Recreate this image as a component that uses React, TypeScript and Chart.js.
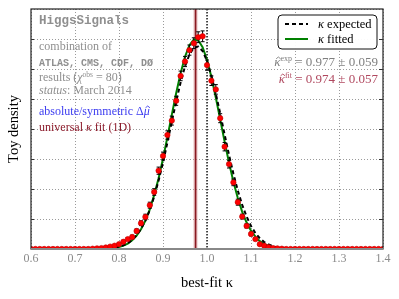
import React, { useEffect, useRef } from 'react';
import { Chart, registerables } from 'chart.js';

Chart.register(...registerables);

// ---- data ----
const binCenters = [
  0.60, 0.61, 0.62, 0.63, 0.64, 0.65, 0.66, 0.67, 0.68, 0.69,
  0.70, 0.71, 0.72, 0.73, 0.74, 0.75, 0.76, 0.77, 0.78, 0.79,
  0.80, 0.81, 0.82, 0.83, 0.84, 0.85, 0.86, 0.87, 0.88, 0.89,
  0.90, 0.91, 0.92, 0.93, 0.94, 0.95, 0.96, 0.97, 0.98, 0.99,
  1.00, 1.01, 1.02, 1.03, 1.04, 1.05, 1.06, 1.07, 1.08, 1.09,
  1.10, 1.11, 1.12, 1.13, 1.14, 1.15, 1.16, 1.17, 1.18, 1.19,
  1.20, 1.21, 1.22, 1.23, 1.24, 1.25, 1.26, 1.27, 1.28, 1.29,
  1.30, 1.31, 1.32, 1.33, 1.34, 1.35, 1.36, 1.37, 1.38, 1.39, 1.40,
];
const toyDensity = [
  0, 0, 0, 0, 0, 0, 0, 0, 0, 0,
  0, 0, 0, 0, 0.01, 0.02, 0.03, 0.05, 0.08, 0.11,
  0.16, 0.24, 0.33, 0.40, 0.60, 0.86, 1.07, 1.46, 1.90, 2.61,
  3.10, 3.80, 4.28, 4.94, 5.77, 6.25, 6.63, 6.86, 7.06, 7.09,
  6.13, 5.61, 5.32, 4.36, 3.41, 2.83, 2.22, 1.56, 1.08, 0.77,
  0.50, 0.33, 0.16, 0.11, 0.06, 0.03, 0.02, 0.01, 0, 0,
  0, 0, 0, 0, 0, 0, 0, 0, 0, 0,
  0, 0, 0, 0, 0, 0, 0, 0, 0, 0, 0,
];
const toyErrors = [
  0, 0, 0, 0, 0, 0, 0, 0, 0, 0,
  0, 0, 0, 0, 0.01, 0.01, 0.02, 0.02, 0.03, 0.03,
  0.04, 0.05, 0.05, 0.06, 0.07, 0.08, 0.09, 0.10, 0.11, 0.12,
  0.13, 0.14, 0.15, 0.15, 0.16, 0.17, 0.17, 0.18, 0.18, 0.18,
  0.17, 0.16, 0.16, 0.15, 0.14, 0.13, 0.11, 0.10, 0.08, 0.07,
  0.06, 0.05, 0.04, 0.03, 0.02, 0.02, 0.01, 0.01, 0, 0,
  0, 0, 0, 0, 0, 0, 0, 0, 0, 0,
  0, 0, 0, 0, 0, 0, 0, 0, 0, 0, 0,
];
const curveKappa = [
  0.60, 0.70, 0.72, 0.74, 0.76,
  0.78, 0.79, 0.80, 0.81, 0.82, 0.83, 0.84, 0.85, 0.86, 0.87,
  0.88, 0.89, 0.90, 0.91, 0.92, 0.93, 0.94, 0.95, 0.96, 0.97,
  0.98, 0.99, 1.00, 1.01, 1.02, 1.03, 1.04, 1.05, 1.06, 1.07,
  1.08, 1.09, 1.10, 1.11, 1.12, 1.13, 1.14, 1.15, 1.16,
  1.18, 1.20, 1.22, 1.24, 1.30, 1.40,
];
const fittedDensity = [
  0, 0, 0.0003, 0.0015, 0.006,
  0.021, 0.038, 0.066, 0.111, 0.182, 0.288, 0.442, 0.657, 0.947, 1.32,
  1.80, 2.36, 3.01, 3.73, 4.47, 5.20, 5.86, 6.41, 6.79, 6.98,
  6.96, 6.73, 6.31, 5.73, 5.05, 4.32, 3.58, 2.88, 2.24, 1.70,
  1.24, 0.88, 0.61, 0.41, 0.26, 0.165, 0.10, 0.06, 0.034,
  0.010, 0.003, 0.0006, 0.0001, 0, 0,
];
const expectedDensity = [
  0, 0, 0.0005, 0.002, 0.008,
  0.026, 0.045, 0.075, 0.123, 0.196, 0.303, 0.456, 0.667, 0.946, 1.30,
  1.75, 2.28, 2.88, 3.55, 4.24, 4.92, 5.55, 6.09, 6.48, 6.71,
  6.75, 6.60, 6.27, 5.78, 5.18, 4.52, 3.82, 3.14, 2.51, 1.95,
  1.47, 1.08, 0.77, 0.53, 0.36, 0.23, 0.149, 0.092, 0.055,
  0.018, 0.005, 0.0014, 0.0003, 0, 0,
];
const xTickValues = [0.6, 0.7, 0.8, 0.9, 1.0, 1.1, 1.2, 1.3, 1.4];
const kappaFitValue = 0.974;
const kappaReference = 1.0;
const yTop = 8;

const SERIF = '"Liberation Serif", "DejaVu Serif", serif';
const MONO = '"Liberation Mono", "DejaVu Sans Mono", monospace';
const GRAY = '#8f8f8f';

type Seg = { t: string; f: string; dy?: number; c?: string; hat?: boolean };

function drawSegs(ctx: CanvasRenderingContext2D, segs: Seg[], x: number, y: number, color: string, alignRight = false) {
  let total = 0;
  for (const s of segs) { ctx.font = s.f; total += ctx.measureText(s.t).width; }
  let cx = alignRight ? x - total : x;
  ctx.textBaseline = 'alphabetic';
  ctx.textAlign = 'left';
  for (const s of segs) {
    ctx.font = s.f;
    ctx.fillStyle = s.c || color;
    const w = ctx.measureText(s.t).width;
    ctx.fillText(s.t, cx, y + (s.dy || 0));
    if (s.hat) {
      const mx = cx + w / 2 + 1;
      const hy = y - 9;
      ctx.save();
      ctx.strokeStyle = s.c || color;
      ctx.lineWidth = 0.9;
      ctx.beginPath();
      ctx.moveTo(mx - 2.2, hy + 1.8);
      ctx.lineTo(mx, hy);
      ctx.lineTo(mx + 2.2, hy + 1.8);
      ctx.stroke();
      ctx.restore();
    }
    cx += w;
  }
}

const overlayPlugin = {
  id: 'overlayPlugin',
  beforeDatasetsDraw(chart: any) {
    const { ctx, chartArea: a, scales } = chart;
    const x = scales.x;
    ctx.save();
    ctx.beginPath();
    ctx.rect(a.left, a.top, a.right - a.left, a.bottom - a.top);
    ctx.clip();
    const xr = x.getPixelForValue(kappaFitValue);
    ctx.fillStyle = 'rgba(225,160,160,0.35)';
    ctx.fillRect(xr - 2.5, a.top, 5, a.bottom - a.top);
    ctx.strokeStyle = '#8b1a22';
    ctx.lineWidth = 1.8;
    ctx.beginPath();
    ctx.moveTo(xr, a.top);
    ctx.lineTo(xr, a.bottom);
    ctx.stroke();
    const xs = x.getPixelForValue(kappaReference);
    ctx.strokeStyle = '#222';
    ctx.lineWidth = 1.5;
    ctx.setLineDash([1.5, 1.5]);
    ctx.beginPath();
    ctx.moveTo(xs, a.top);
    ctx.lineTo(xs, a.bottom);
    ctx.stroke();
    ctx.restore();
  },
  beforeDatasetDraw(chart: any, args: any) {
    if (args.index !== 2) return;
    const { ctx, scales: { x, y } } = chart;
    ctx.save();
    ctx.strokeStyle = '#000';
    ctx.lineWidth = 1;
    for (let i = 0; i < binCenters.length; i++) {
      const e = toyErrors[i];
      if (!e) continue;
      const px = x.getPixelForValue(binCenters[i]);
      const y1 = y.getPixelForValue(toyDensity[i] - e);
      const y2 = y.getPixelForValue(toyDensity[i] + e);
      ctx.beginPath();
      ctx.moveTo(px, y1); ctx.lineTo(px, y2);
      ctx.moveTo(px - 2, y1); ctx.lineTo(px + 2, y1);
      ctx.moveTo(px - 2, y2); ctx.lineTo(px + 2, y2);
      ctx.stroke();
    }
    ctx.restore();
  },
  afterDraw(chart: any) {
    const { ctx, chartArea: a } = chart;
    ctx.save();
    // frame
    ctx.strokeStyle = '#222';
    ctx.lineWidth = 1.2;
    ctx.strokeRect(a.left, a.top, a.right - a.left, a.bottom - a.top);
    ctx.strokeStyle = '#888';
    ctx.lineWidth = 2;
    ctx.beginPath();
    ctx.moveTo(a.left, a.bottom);
    ctx.lineTo(a.right, a.bottom);
    ctx.stroke();
    // inner ticks
    const y = chart.scales.y;
    ctx.strokeStyle = '#333';
    ctx.lineWidth = 1;
    for (let v = 1; v < yTop; v++) {
      const py = Math.round(y.getPixelForValue(v)) + 0.5;
      ctx.beginPath();
      ctx.moveTo(a.right - 4, py); ctx.lineTo(a.right, py);
      ctx.moveTo(a.left, py); ctx.lineTo(a.left + 3, py);
      ctx.stroke();
    }

    // left text block
    const lx = a.left + 8;
    const F = `12px ${SERIF}`;
    const FI = `italic 12px ${SERIF}`;
    drawSegs(ctx, [{ t: 'HiggsSignals', f: `bold 12.5px ${MONO}` }], lx, a.top + 15, GRAY);
    drawSegs(ctx, [{ t: 'combination of', f: F }], lx, a.top + 41, GRAY);
    drawSegs(ctx, [{ t: 'ATLAS, CMS, CDF, DØ', f: `bold 10px ${MONO}` }], lx, a.top + 57, GRAY);
    drawSegs(ctx, [
      { t: 'results (', f: F },
      { t: 'χ', f: FI },
      { t: 'obs', f: `7.5px ${SERIF}`, dy: -4 },
      { t: ' = 80)', f: F },
    ], lx, a.top + 72, GRAY);
    drawSegs(ctx, [
      { t: 'status', f: FI },
      { t: ': March 2014', f: F },
    ], lx, a.top + 85, GRAY);
    drawSegs(ctx, [
      { t: 'absolute/symmetric Δ', f: F },
      { t: 'μ', f: FI, hat: true },
    ], lx, a.top + 106, '#3b3bf0');
    drawSegs(ctx, [
      { t: 'universal ', f: F },
      { t: 'κ', f: FI },
      { t: ' fit (1D)', f: F },
    ], lx, a.top + 122, '#8b1a2a');

    // right values
    const rx = a.right - 5;
    drawSegs(ctx, [
      { t: 'κ', f: `italic 13px ${SERIF}`, hat: true },
      { t: 'exp', f: `8px ${SERIF}`, dy: -5 },
      { t: ' = 0.977 ± 0.059', f: `13px ${SERIF}` },
    ], rx, a.top + 57, '#808080', true);
    drawSegs(ctx, [
      { t: 'κ', f: `italic 13px ${SERIF}`, hat: true },
      { t: 'fit', f: `8px ${SERIF}`, dy: -5 },
      { t: ' = 0.974 ± 0.057', f: `13px ${SERIF}` },
    ], rx, a.top + 74, '#b0485f', true);

    // legend box
    const bx = 278, by = 15, bw = 99, bh = 34, r = 4;
    ctx.beginPath();
    ctx.moveTo(bx + r, by);
    ctx.arcTo(bx + bw, by, bx + bw, by + bh, r);
    ctx.arcTo(bx + bw, by + bh, bx, by + bh, r);
    ctx.arcTo(bx, by + bh, bx, by, r);
    ctx.arcTo(bx, by, bx + bw, by, r);
    ctx.closePath();
    ctx.fillStyle = 'rgba(255,255,255,0.95)';
    ctx.fill();
    ctx.strokeStyle = '#111';
    ctx.lineWidth = 1;
    ctx.stroke();
    ctx.lineWidth = 2;
    ctx.strokeStyle = '#000';
    ctx.setLineDash([4, 3]);
    ctx.beginPath(); ctx.moveTo(285, 24); ctx.lineTo(308, 24); ctx.stroke();
    ctx.setLineDash([]);
    ctx.strokeStyle = '#008000';
    ctx.beginPath(); ctx.moveTo(285, 39); ctx.lineTo(308, 39); ctx.stroke();
    drawSegs(ctx, [
      { t: 'κ', f: `italic 12.5px ${SERIF}` },
      { t: ' expected', f: `12.5px ${SERIF}` },
    ], 318, 28, '#000');
    drawSegs(ctx, [
      { t: 'κ', f: `italic 12.5px ${SERIF}` },
      { t: ' fitted', f: `12.5px ${SERIF}` },
    ], 318, 43, '#000');
    ctx.restore();
  },
};

export default function App() {
  const ref = useRef<HTMLCanvasElement | null>(null);
  useEffect(() => {
    if (!ref.current) return;
    const chart = new Chart(ref.current, {
      type: 'line',
      data: {
        datasets: [
          {
            label: 'κ fitted',
            data: curveKappa.map((k, i) => ({ x: k, y: fittedDensity[i] })),
            borderColor: '#008000',
            borderWidth: 2,
            pointRadius: 0,
            fill: false,
            order: 2,
          },
          {
            label: 'κ expected',
            data: curveKappa.map((k, i) => ({ x: k, y: expectedDensity[i] })),
            borderColor: '#000000',
            borderWidth: 2,
            borderDash: [4, 3],
            pointRadius: 0,
            fill: false,
            order: 1,
          },
          {
            label: 'toys',
            data: binCenters.map((k, i) => ({ x: k, y: toyDensity[i] })),
            showLine: false,
            pointRadius: 2.7,
            pointBackgroundColor: '#ff0000',
            pointBorderColor: '#c00000',
            pointBorderWidth: 0.6,
            order: 0,
          },
        ],
      },
      options: {
        animation: false,
        responsive: true,
        maintainAspectRatio: false,
        layout: { padding: { top: 9, right: 16, left: 0, bottom: 0 } },
        plugins: { legend: { display: false }, tooltip: { enabled: false } },
        scales: {
          x: {
            type: 'linear',
            min: 0.6,
            max: 1.4,
            afterBuildTicks: (s: any) => { s.ticks = xTickValues.map((v) => ({ value: v })); },
            afterFit: (s: any) => { s.height = 50; },
            ticks: {
              color: '#8a8a8a',
              font: { family: SERIF, size: 12 },
              padding: 3,
              callback: (v: any) => Number(v).toFixed(1),
              maxRotation: 0,
            },
            grid: { color: '#9a9a9a', lineWidth: 1, drawTicks: false },
            border: { display: false, dash: [1, 2] },
            title: {
              display: true,
              text: 'best-fit κ',
              color: '#000',
              font: { family: SERIF, size: 14.5 },
              padding: { top: 0, bottom: 7 },
            },
          },
          y: {
            min: 0,
            max: yTop,
            ticks: { display: false, stepSize: 1 },
            afterFit: (s: any) => { s.width = 31; },
            grid: { color: '#9a9a9a', lineWidth: 1, drawTicks: false },
            border: { display: false, dash: [1, 2] },
            title: {
              display: true,
              text: 'Toy density',
              color: '#000',
              font: { family: SERIF, size: 14.5 },
              padding: { top: 5, bottom: 4 },
            },
          },
        },
      },
      plugins: [overlayPlugin],
    });
    return () => chart.destroy();
  }, []);
  return (
    <div style={{ position: 'fixed', left: 0, top: 0, width: 399, height: 299, background: '#fff' }}>
      <canvas ref={ref} />
    </div>
  );
}
